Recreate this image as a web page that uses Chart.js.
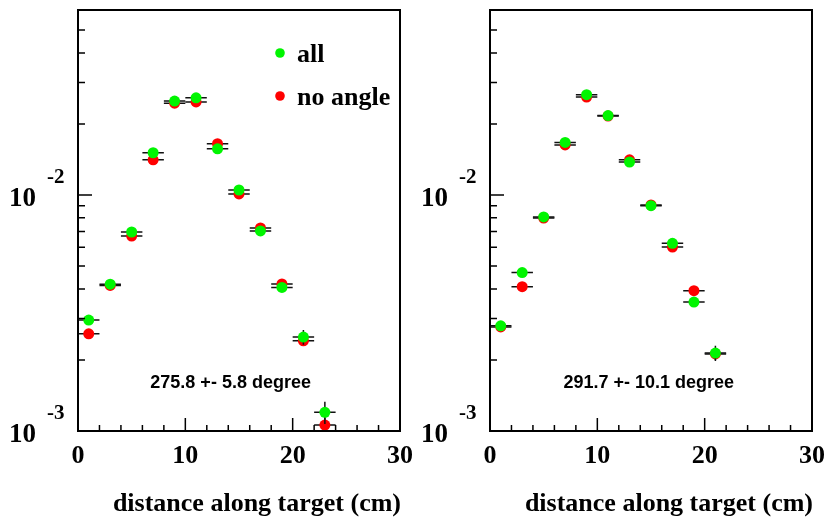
<!DOCTYPE html>
<html><head><meta charset="utf-8">
<script src="https://cdn.jsdelivr.net/npm/chart.js@4/dist/chart.umd.min.js"></script>
<style>
html,body{margin:0;padding:0;background:#fff;overflow:hidden}
#wrap{position:relative;width:827px;height:521px;background:#fff}
canvas{position:absolute;top:0}
</style></head><body>
<div id="wrap">
<canvas id="c1" width="414" height="521" style="left:0;width:414px;height:521px"></canvas>
<canvas id="c2" width="413" height="521" style="left:414px;width:413px;height:521px"></canvas>
</div>
<script>
// ---------- data ----------
const seriesNames = ['all', 'no angle'];
const binHalfWidth = 1;

const leftBins = [1, 3, 5, 7, 9, 11, 13, 15, 17, 19, 21, 23];
const leftAll = [0.00295, 0.00419, 0.00697, 0.0151, 0.0250, 0.0258, 0.0157, 0.0105, 0.00704, 0.00406, 0.00250, 0.00120];
const leftAllErr = [0.00008, 0.00010, 0.00014, 0.00025, 0.00035, 0.00035, 0.00025, 0.00018, 0.00014, 0.00012, 0.00018, 0.00013];
const leftNoAngle = [0.00258, 0.00414, 0.00670, 0.0141, 0.0245, 0.0248, 0.0165, 0.0101, 0.00725, 0.00420, 0.00241, 0.00106];
const leftNoAngleErr = [0.00008, 0.00010, 0.00014, 0.00025, 0.00035, 0.00035, 0.00025, 0.00018, 0.00014, 0.00012, 0.00012, 0.00008];

const rightBins = [1, 3, 5, 7, 9, 11, 13, 15, 17, 19, 21];
const rightAll = [0.00279, 0.00469, 0.00807, 0.0167, 0.0266, 0.0217, 0.0138, 0.00901, 0.00624, 0.00352, 0.00214];
const rightAllErr = [0.00008, 0.00011, 0.00015, 0.00028, 0.00040, 0.00035, 0.00028, 0.00018, 0.00014, 0.00012, 0.00016];
const rightNoAngle = [0.00276, 0.00409, 0.00799, 0.0163, 0.0260, 0.0216, 0.0141, 0.00907, 0.00602, 0.00393, 0.00212];
const rightNoAngleErr = [0.00008, 0.00011, 0.00015, 0.00028, 0.00040, 0.00035, 0.00028, 0.00018, 0.00014, 0.00012, 0.00012];

const leftNote = '275.8 +- 5.8 degree';
const rightNote = '291.7 +- 10.1 degree';
const xTitle = 'distance along target (cm)';

const xMajorTicks = [0, 10, 20, 30];
const xMinorTicks = [2, 4, 6, 8, 12, 14, 16, 18, 22, 24, 26, 28];
const yLabelValues = [0.01, 0.001];
const yLabelExps = ['-2', '-3'];
const yMinorTicks = [0.002, 0.003, 0.004, 0.005, 0.006, 0.007, 0.008, 0.009, 0.02, 0.03, 0.04, 0.05, 0.06];
const yMajorTicks = [0.01];

// ---------- styling ----------
const GREEN = '#00f500';
const RED = '#ff0000';
const SERIF = '"Liberation Serif", "Times New Roman", serif';
const SANS = '"Liberation Sans", Arial, sans-serif';

function pts(bins, vals, errs) {
  return bins.map((b, i) => ({ x: b, y: vals[i], ex: binHalfWidth, ey: errs[i] }));
}

const errorBars = {
  id: 'errorBars',
  beforeDatasetDraw(chart, args) {
    const ctx = chart.ctx, xs = chart.scales.x, ys = chart.scales.y;
    const ds = chart.data.datasets[args.index];
    ctx.save();
    ctx.beginPath();
    ctx.rect(chart.chartArea.left, chart.chartArea.top, chart.chartArea.width, chart.chartArea.height);
    ctx.clip();
    ctx.strokeStyle = '#111';
    ctx.lineWidth = 1.5;
    ds.data.forEach(p => {
      const py = ys.getPixelForValue(p.y);
      ctx.beginPath();
      ctx.moveTo(xs.getPixelForValue(p.x - p.ex), py);
      ctx.lineTo(xs.getPixelForValue(p.x + p.ex), py);
      const px = xs.getPixelForValue(p.x);
      ctx.moveTo(px, ys.getPixelForValue(p.y + p.ey));
      ctx.lineTo(px, ys.getPixelForValue(Math.max(p.y - p.ey, 1e-5)));
      ctx.stroke();
    });
    ctx.restore();
  }
};

const frame = {
  id: 'frame',
  afterDraw(chart, args, opts) {
    const ctx = chart.ctx, xs = chart.scales.x, ys = chart.scales.y;
    const a = chart.chartArea;
    ctx.save();
    // ticks
    ctx.strokeStyle = '#000';
    ctx.lineWidth = 1.5;
    ctx.beginPath();
    yMinorTicks.forEach(v => { const y = ys.getPixelForValue(v); if (y > a.top + 2) { ctx.moveTo(a.left, y); ctx.lineTo(a.left + 7, y); } });
    yMajorTicks.forEach(v => { const y = ys.getPixelForValue(v); ctx.moveTo(a.left, y); ctx.lineTo(a.left + 14, y); });
    xMinorTicks.forEach(v => { const x = xs.getPixelForValue(v); ctx.moveTo(x, a.bottom); ctx.lineTo(x, a.bottom - 6); });
    xMajorTicks.forEach(v => { const x = xs.getPixelForValue(v); ctx.moveTo(x, a.bottom); ctx.lineTo(x, a.bottom - 13); });
    ctx.stroke();
    // frame
    ctx.lineWidth = 2;
    ctx.strokeRect(a.left, a.top, a.right - a.left, a.bottom - a.top);

    ctx.fillStyle = '#000';
    // x tick labels
    ctx.font = 'bold 26px ' + SERIF;
    ctx.textAlign = 'center';
    ctx.textBaseline = 'alphabetic';
    xMajorTicks.forEach(v => ctx.fillText(String(v), xs.getPixelForValue(v), a.bottom + 32));
    // x title
    ctx.textAlign = 'right';
    ctx.fillText(xTitle, a.right + 1, a.bottom + 80);
    // y labels
    yLabelValues.forEach((v, i) => {
      const y = ys.getPixelForValue(v);
      ctx.font = 'bold 27px ' + SERIF;
      ctx.textAlign = 'right';
      ctx.fillText('10', a.left - 42, y + 11);
      ctx.font = 'bold 21px ' + SERIF;
      ctx.textAlign = 'left';
      ctx.fillText(yLabelExps[i], a.left - 31, y - 12);
    });
    // note
    ctx.font = 'bold 18px ' + SANS;
    ctx.textAlign = 'center';
    ctx.textBaseline = 'middle';
    ctx.fillText(opts.note, a.left + opts.noteX * (a.right - a.left), a.top + opts.noteY * (a.bottom - a.top));
    // legend
    if (opts.legend) {
      const items = [{ c: GREEN, t: seriesNames[0] }, { c: RED, t: seriesNames[1] }];
      items.forEach((it, i) => {
        const cy = a.top + 43 + i * 43;
        ctx.fillStyle = it.c;
        ctx.beginPath();
        ctx.arc(a.left + 202, cy, 4.8, 0, Math.PI * 2);
        ctx.fill();
        ctx.fillStyle = '#000';
        ctx.font = 'bold 26px ' + SERIF;
        ctx.textAlign = 'left';
        ctx.textBaseline = 'alphabetic';
        ctx.fillText(it.t, a.left + 219, cy + 9);
      });
    }
    ctx.restore();
  }
};

function makeChart(id, bins, all, allErr, noAng, noAngErr, pad, note, noteX, legend) {
  return new Chart(document.getElementById(id), {
    type: 'scatter',
    data: {
      datasets: [
        { label: seriesNames[0], data: pts(bins, all, allErr), backgroundColor: GREEN, borderWidth: 0, pointRadius: 5.5, pointHoverRadius: 5.5 },
        { label: seriesNames[1], data: pts(bins, noAng, noAngErr), backgroundColor: RED, borderWidth: 0, pointRadius: 5.5, pointHoverRadius: 5.5 }
      ]
    },
    options: {
      responsive: false,
      devicePixelRatio: 1,
      animation: false,
      events: [],
      layout: { padding: pad },
      scales: {
        x: { type: 'linear', min: 0, max: 30, display: false },
        y: { type: 'logarithmic', min: 0.001, max: 0.0608, display: false }
      },
      plugins: {
        legend: { display: false },
        tooltip: { enabled: false },
        frame: { note: note, noteX: noteX, noteY: 0.886, legend: legend }
      }
    },
    plugins: [errorBars, frame]
  });
}

makeChart('c1', leftBins, leftAll, leftAllErr, leftNoAngle, leftNoAngleErr,
  { left: 78, right: 14, top: 10, bottom: 90 }, leftNote, 0.474, true);
makeChart('c2', rightBins, rightAll, rightAllErr, rightNoAngle, rightNoAngleErr,
  { left: 76, right: 15, top: 10, bottom: 90 }, rightNote, 0.493, false);
</script>
</body></html>
